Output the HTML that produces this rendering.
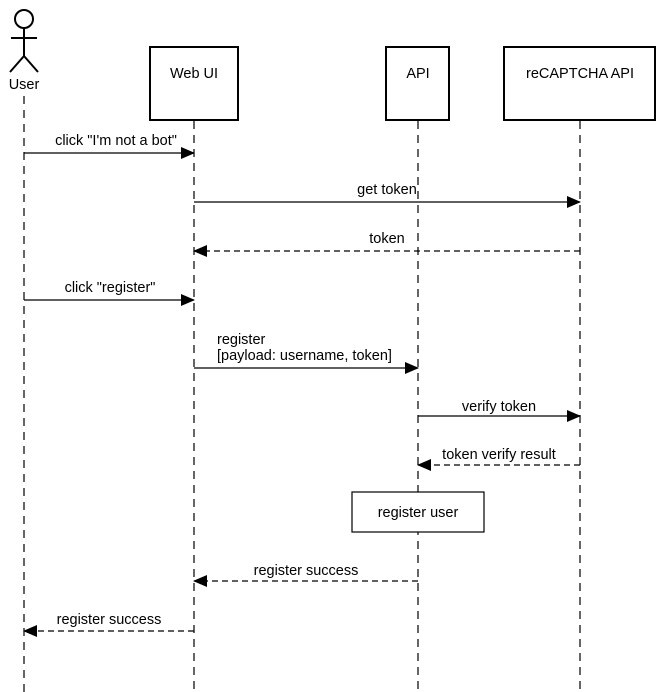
<!DOCTYPE html>
<html><head><style>body{margin:0;background:#fff}svg{display:block}text{font-family:"Liberation Sans",Arial,sans-serif;font-size:14.5px;fill:#000}</style></head>
<body>
<svg width="663" height="692" viewBox="0 0 663 692">
<defs><marker id="a" markerWidth="14" markerHeight="12" refX="13" refY="6" orient="auto" markerUnits="userSpaceOnUse"><path d="M0,0 L14,6 L0,12 Z" fill="#000"/></marker></defs>
<g stroke="#000" stroke-width="1.2" stroke-dasharray="8,6" fill="none">
<line x1="24" y1="96" x2="24" y2="692"/>
<line x1="194" y1="121" x2="194" y2="692"/>
<line x1="418" y1="121" x2="418" y2="692"/>
<line x1="580" y1="121" x2="580" y2="692"/>
</g>
<g stroke="#000" stroke-width="2" fill="#fff">
<circle cx="24" cy="19" r="9"/>
<line x1="24" y1="28" x2="24" y2="56"/>
<line x1="11" y1="38" x2="37" y2="38"/>
<polyline points="10,72 24,56 38,72" fill="none"/>
<rect x="150" y="47" width="88" height="73"/>
<rect x="386" y="47" width="63" height="73"/>
<rect x="504" y="47" width="151" height="73"/>
</g>
<text x="24" y="89" text-anchor="middle">User</text>
<text x="194" y="78" text-anchor="middle">Web UI</text>
<text x="418" y="78" text-anchor="middle">API</text>
<text x="580" y="78" text-anchor="middle">reCAPTCHA API</text>
<g stroke="#000" stroke-width="1.2" fill="none" marker-end="url(#a)">
<line x1="24" y1="153" x2="194" y2="153"/>
<line x1="194" y1="202" x2="580" y2="202"/>
<line x1="580" y1="251" x2="194" y2="251" stroke-dasharray="6,4"/>
<line x1="24" y1="300" x2="194" y2="300"/>
<line x1="194" y1="368" x2="418" y2="368"/>
<line x1="418" y1="416" x2="580" y2="416"/>
<line x1="580" y1="465" x2="418" y2="465" stroke-dasharray="6,4"/>
<line x1="418" y1="581" x2="194" y2="581" stroke-dasharray="6,4"/>
<line x1="194" y1="631" x2="24" y2="631" stroke-dasharray="6,4"/>
</g>
<text x="116" y="145" text-anchor="middle">click "I'm not a bot"</text>
<text x="387" y="194" text-anchor="middle">get token</text>
<text x="387" y="243" text-anchor="middle">token</text>
<text x="110" y="292" text-anchor="middle">click "register"</text>
<text x="217" y="344">register</text>
<text x="217" y="360">[payload: username, token]</text>
<text x="499" y="411" text-anchor="middle">verify token</text>
<text x="499" y="459" text-anchor="middle">token verify result</text>
<rect x="352" y="492" width="132" height="40" fill="#fff" stroke="#000" stroke-width="1.2"/>
<text x="418" y="517" text-anchor="middle">register user</text>
<text x="306" y="575" text-anchor="middle">register success</text>
<text x="109" y="624" text-anchor="middle">register success</text>
</svg>
</body></html>
